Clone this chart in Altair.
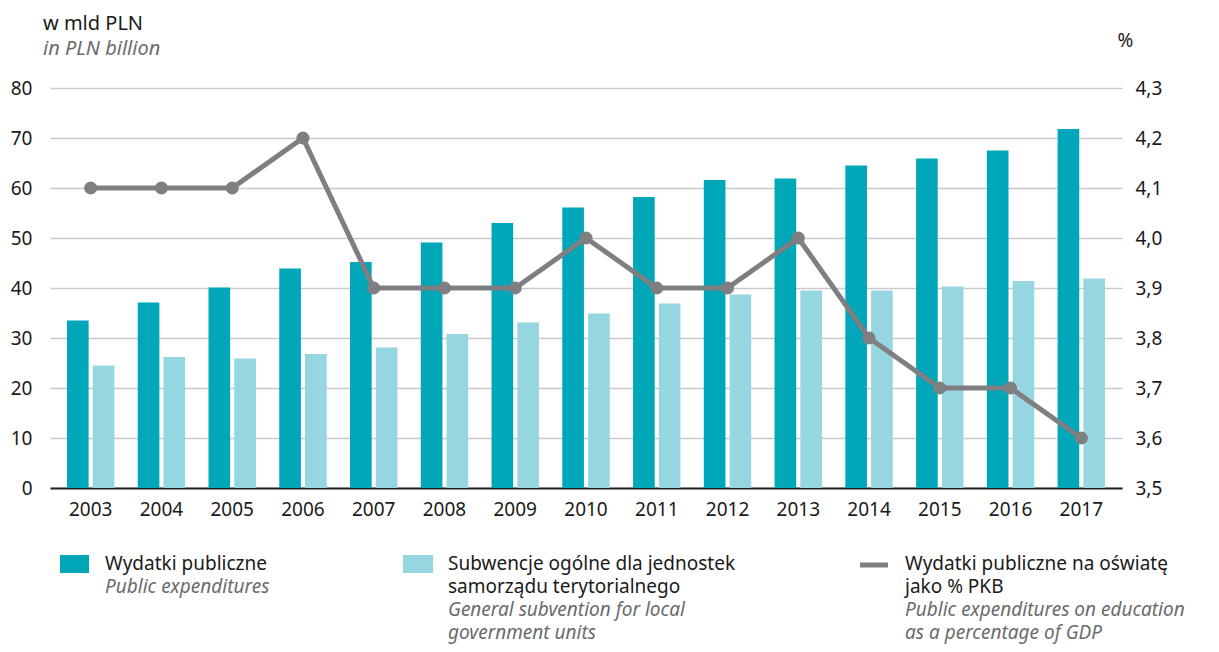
import altair as alt
import pandas as pd

years = [str(y) for y in range(2003, 2018)]
wydatki = [33.5, 37.1, 40.1, 43.9, 45.2, 49.1, 53.0, 56.1, 58.2, 61.6, 61.9, 64.5, 65.9, 67.5, 71.8]
subwencje = [24.5, 26.2, 25.9, 26.8, 28.1, 30.8, 33.1, 34.9, 36.9, 38.7, 39.5, 39.5, 40.3, 41.4, 41.9]
pkb_pct = [4.1, 4.1, 4.1, 4.2, 3.9, 3.9, 3.9, 4.0, 3.9, 3.9, 4.0, 3.8, 3.7, 3.7, 3.6]

series_names = ["Wydatki publiczne", "Subwencje ogólne"]
series_colors = ["#00a7b9", "#95d6e0"]
line_color = "#7f7f82"

FONT = "Noto Sans"
FS = 19
LFS = 19
BLACK = "#1a1a1a"
GREY = "#6b6b6b"

bars_df = pd.DataFrame({
    "year": years * 2,
    "series": [series_names[0]] * len(years) + [series_names[1]] * len(years),
    "value": wydatki + subwencje,
})
line_df = pd.DataFrame({"year": years, "pct": pkb_pct})

xenc = alt.X("year:N", title=None,
             scale=alt.Scale(paddingInner=0.33, paddingOuter=0.24),
             axis=alt.Axis(labelAngle=0, ticks=False, domainColor="#222222", domainWidth=2,
                           labelPadding=12, labelFontSize=FS, labelColor=BLACK, grid=False))

bars = alt.Chart(bars_df).mark_bar().encode(
    x=xenc,
    xOffset=alt.XOffset("series:N", sort=series_names,
                        scale=alt.Scale(paddingInner=0.16, paddingOuter=0)),
    y=alt.Y("value:Q", title=None,
            scale=alt.Scale(domain=[0, 80]),
            axis=alt.Axis(values=list(range(0, 81, 10)), ticks=False, domain=False,
                          labelPadding=18, labelFontSize=FS, labelColor=BLACK,
                          gridColor="#c9c9c9", gridWidth=1.5)),
    color=alt.Color("series:N", sort=series_names,
                    scale=alt.Scale(domain=series_names, range=series_colors), legend=None),
)

line_base = alt.Chart(line_df).encode(
    x=alt.X("year:N"),
    y=alt.Y("pct:Q", title="%",
            scale=alt.Scale(domain=[3.5, 4.3]),
            axis=alt.Axis(orient="right", values=[3.5, 3.6, 3.7, 3.8, 3.9, 4.0, 4.1, 4.2, 4.3],
                          ticks=False, domain=False, grid=False, labelPadding=13,
                          labelFontSize=FS, labelColor=BLACK,
                          labelExpr="replace(format(datum.value, '.1f'), '.', ',')",
                          titleAngle=0, titleAlign="left", titleBaseline="alphabetic",
                          titleX=-5, titleY=-42, titleFontSize=FS, titleFontWeight="normal",
                          titleColor=BLACK)),
)
line = line_base.mark_line(color=line_color, strokeWidth=5)
points = line_base.mark_circle(color=line_color, size=170, opacity=1)

one = pd.DataFrame({"a": [0]})

LH = 23

def txt(lines, x, y, italic=False, size=LFS):
    return alt.Chart(one).mark_text(
        text=lines, align="left", baseline="alphabetic", font=FONT, fontSize=size,
        lineHeight=LH, fontStyle="italic" if italic else "normal",
        color=GREY if italic else BLACK,
    ).encode(x=alt.value(x), y=alt.value(y))

title_main = txt(["w mld PLN"], -7, -58, size=20)
title_sub = txt(["in PLN billion"], -7, -33, italic=True, size=20)

sw1 = alt.Chart(one).mark_rect(color=series_colors[0]).encode(
    x=alt.value(10), x2=alt.value(39), y=alt.value(467), y2=alt.value(485))
sw2 = alt.Chart(one).mark_rect(color=series_colors[1]).encode(
    x=alt.value(353), x2=alt.value(383), y=alt.value(467), y2=alt.value(485))
sw3 = alt.Chart(one).mark_rule(color=line_color, strokeWidth=5).encode(
    x=alt.value(810), x2=alt.value(838), y=alt.value(477))

Y0 = 482
leg1a = txt(["Wydatki publiczne"], 55, Y0)
leg1b = txt(["Public expenditures"], 55, Y0 + LH, italic=True)
leg2a = txt(["Subwencje ogólne dla jednostek", "samorządu terytorialnego"], 398, Y0)
leg2b = txt(["General subvention for local", "government units"], 398, Y0 + 2 * LH, italic=True)
leg3a = txt(["Wydatki publiczne na oświatę", "jako % PKB"], 855, Y0)
leg3b = txt(["Public expenditures on education", "as a percentage of GDP"], 855, Y0 + 2 * LH, italic=True)

chart = alt.layer(
    bars, line + points,
    title_main, title_sub, sw1, sw2, sw3, leg1a, leg1b, leg2a, leg2b, leg3a, leg3b,
).resolve_scale(y="independent").properties(
    width=1072, height=400,
    padding={"left": 42, "top": 80, "right": 89, "bottom": 156},
    autosize=alt.AutoSizeParams(type="none"),
).configure(font=FONT).configure_view(stroke=None)

chart.save("out.html", embed_options={"renderer": "svg", "actions": False})
